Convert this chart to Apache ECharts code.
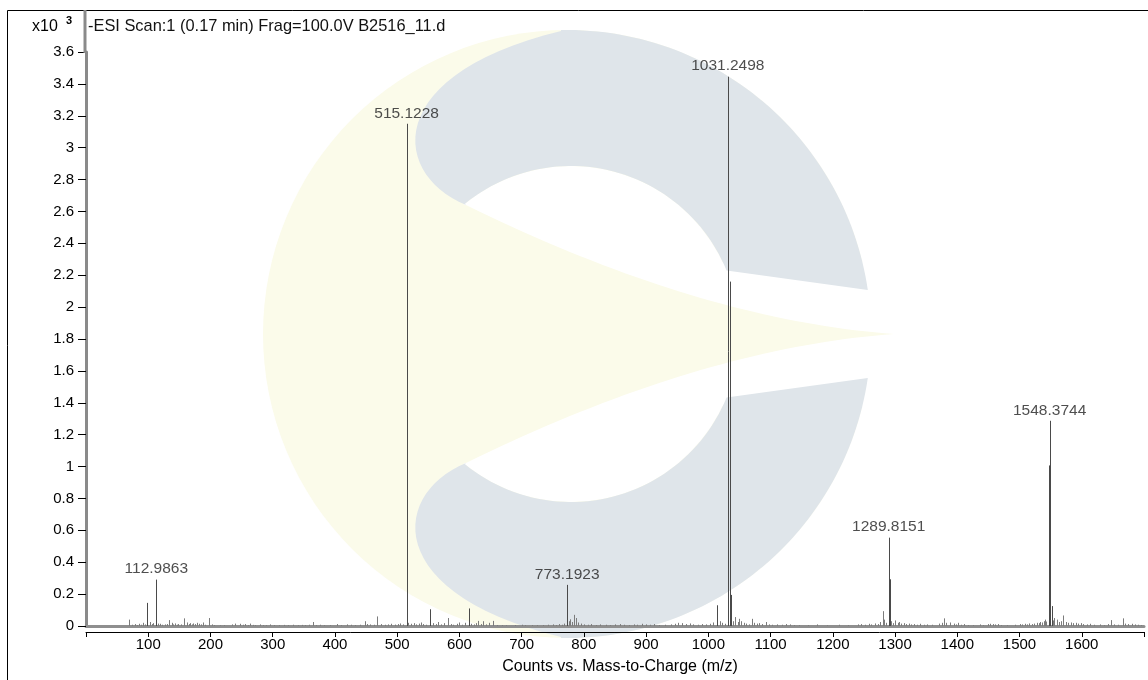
<!DOCTYPE html>
<html>
<head>
<meta charset="utf-8">
<script src="https://cdn.jsdelivr.net/npm/echarts@6/dist/echarts.min.js"></script>
<style>
html,body{margin:0;padding:0;background:#fff;}
#chart{width:1148px;height:680px;}
</style>
</head>
<body>
<div id="chart"></div>
<script>
// ---- DATA ----
const peakMz = [69.6,74,78.7,82,85.7,89,92.1,95,98.5,102.8,105.5,108.2,112.9863,116,118.9,122,126.9,130,133.4,137.6,140,143,146,148.3,152,157.5,161.7,165,167.1,170,172.4,175,177.8,182,185,188.5,192,197.1,201.9,205,
215,222,234,240,247,252,255.5,260,263.5,268,272,279.6,285,290,295.6,302,310,318,325,333,340,347,352,358,365,370,376,383,392,402.8,410,419,426,433,440,447.8,451,457,463,468.2,474,480,486,490,496,501,505,510,515.1228,518,522,527,531,535,538,542,547,553.5,557,562,566,570,576,581,586,590,596,600,604,609,615,619,623,627,630,635,638,643,648,654,660,668,675,690,700,706,716,725,735,742,750,755,760,765,768,773.1923,776,778,781,784,787,791,795,800,806,812,820,826,835,842,850,858,865,872,880,886,893,900,906,912,920,930,940,946,952,958,964,970,976,983,990,996,1002,1008,1014.3,1018,1022,1026,1031.2498,1034.2,1036,1040,1043,1047,1050,1053,1057,1061,1065,1070,1074,1078,1082,1087,1092,1097,1103,1110,1118,1124,1131,1138,1145,1160,1175,1190,1210,1225,1240,1246,1252,1258,1262,1267,1272,1276,1280,1283,1286,1289.8151,1291.3,1294,1297,1300,1304,1307,1310,1314,1318,1322,1326,1330,1335,1340,1346,1352,1360,1370,1375,1378,1382,1388,1394,1398,1401.6,1406,1410,1418,1426,1436,1442,1449,1453,1457,1461,1465,1470,1480,1492,1500,1504,1508,1512,1516,1520,1524,1528,1531,1533,1536,1539,1541,1543,1546.8,1548.3744,1551.5,1554,1555.7,1559.6,1563,1566,1570.3,1574,1578,1582,1586,1590,1594,1598,1602,1608,1614,1620,1629,1636,1642,1647,1652,1658,1666.7,1670,1675,1680,1685,1690,1695];
const peakCounts = [40,8,12,6,14,8,20,10,145,25,12,18,291,15,14,8,10,12,37,20,10,16,8,12,10,48,22,12,18,10,16,12,20,14,10,22,8,50,10,6,
4,5,10,15,14,8,12,6,15,7,5,10,6,5,10,6,5,7,6,8,5,7,6,8,25,6,8,5,6,12,6,10,8,6,8,30,12,10,8,60,12,8,10,14,9,12,16,10,3150,20,14,18,10,15,22,12,8,105,18,12,25,10,18,50,12,8,14,22,8,20,110,14,10,18,32,12,30,10,20,32,6,5,4,6,8,5,6,5,6,8,10,6,12,8,15,258,30,42,25,70,50,22,15,10,8,12,6,10,8,6,10,12,8,6,10,8,14,10,8,12,6,8,10,14,20,18,12,16,10,8,12,10,14,22,130,30,20,14,3445,2160,195,30,56,25,45,30,20,15,10,45,20,15,18,12,25,10,8,10,8,12,10,6,5,5,10,4,8,5,10,12,8,14,10,16,12,25,93,40,20,554,293,30,18,35,20,25,15,18,12,15,10,12,8,14,8,10,8,15,20,48,20,22,15,10,20,8,12,6,5,10,5,12,14,12,10,12,6,5,8,12,10,14,10,16,12,15,20,18,25,22,30,40,28,1007,1287,125,35,50,40,25,30,66,25,20,22,18,20,15,18,12,10,14,8,10,6,12,37,10,8,48,15,12,14,10,8,6];

const labelMz = [112.9863, 515.1228, 773.1923, 1031.2498, 1289.8151, 1548.3744];
const labelCounts = [291, 3150, 258, 3445, 554, 1287];
const labelTexts = ['112.9863', '515.1228', '773.1923', '1031.2498', '1289.8151', '1548.3744'];

const xTickMin = 0, xTickMax = 1700, xTickStep = 100;
const yTickMin = 0, yTickMax = 3600, yTickStep = 200;

const headerText = '-ESI Scan:1 (0.17 min) Frag=100.0V B2516_11.d';
const axisTitle = 'Counts vs. Mass-to-Charge (m/z)';

// ---- WATERMARK GEOMETRY (decoration) ----
const FONT = '"Liberation Sans", Arial, sans-serif';
const YELLOW = '#fbfbea', BLUE = '#dfe5ea';
function arcPts(cx, cy, r, a0, a1, n) {
  const pts = [];
  for (let i = 0; i <= n; i++) {
    const a = (a0 + (a1 - a0) * i / n) * Math.PI / 180;
    pts.push([cx + r * Math.cos(a), cy + r * Math.sin(a)]);
  }
  return pts;
}
function cubicPts(p0, p1, p2, p3, n) {
  const pts = [];
  for (let i = 0; i <= n; i++) {
    const t = i / n, u = 1 - t;
    pts.push([u*u*u*p0[0] + 3*u*u*t*p1[0] + 3*u*t*t*p2[0] + t*t*t*p3[0],
              u*u*u*p0[1] + 3*u*u*t*p1[1] + 3*u*t*t*p2[1] + t*t*t*p3[1]]);
  }
  return pts;
}
function quadPts(p0, c, p1, n) {
  const pts = [];
  for (let i = 0; i <= n; i++) {
    const t = i / n, u = 1 - t;
    pts.push([u*u*p0[0] + 2*u*t*c[0] + t*t*p1[0], u*u*p0[1] + 2*u*t*c[1] + t*t*p1[1]]);
  }
  return pts;
}
const OC = [567, 334], OR = 304, HC = [571, 334], HR = 168, MID = 334;
function deg(p, c) { return Math.atan2(p[1] - c[1], p[0] - c[0]) * 180 / Math.PI; }
const upperBand = [].concat(
  arcPts(OC[0], OC[1], OR, deg([561, 31], OC), deg([868, 290], OC), 60),
  arcPts(HC[0], HC[1], HR, deg([728, 270], HC), deg([466, 205], HC), 50),
  cubicPts([466, 205], [392, 175], [380, 75], [561, 31], 30)
);
const lowerBand = upperBand.map(p => [p[0], 2 * MID - p[1]]);
const spike = [].concat(
  quadPts([466, 205], [700, 320], [894, 334], 40),
  quadPts([894, 334], [700, 348], [466, 463], 40),
  [[400, 463], [400, 205]]
);

const chart = echarts.init(document.getElementById('chart'), null, {renderer: 'canvas'});
const option = {
  animation: false,
  backgroundColor: '#fff',
  textStyle: {fontFamily: FONT},
  grid: {left: 86, right: 4, top: 52, bottom: 50, containLabel: false},
  xAxis: [
    {type: 'value', min: xTickMin, max: xTickMax, interval: xTickStep, position: 'bottom', offset: 1,
     axisLine: {show: true, lineStyle: {color: '#8f8f8f', width: 3}},
     axisTick: {show: false}, axisLabel: {show: false}, splitLine: {show: false}},
    {type: 'value', min: xTickMin, max: xTickMax, interval: xTickStep, position: 'bottom', offset: 6,
     axisLine: {show: true, lineStyle: {color: '#000', width: 1}},
     axisTick: {show: true, length: 5, lineStyle: {color: '#000', width: 1}},
     axisLabel: {fontSize: 15, color: '#000', margin: 5, fontFamily: FONT,
       formatter: v => (v === xTickMin || v === xTickMax) ? '' : String(v)},
     splitLine: {show: false},
     name: axisTitle, nameLocation: 'middle', nameGap: 27,
     nameTextStyle: {fontSize: 16, color: '#000', fontFamily: FONT, padding: [0, 0, 0, 10]}}
  ],
  yAxis: [{
    type: 'value', min: yTickMin, max: yTickMax, interval: yTickStep, position: 'left', offset: 1,
    axisLine: {show: true, lineStyle: {color: '#8a8a8a', width: 3}},
    axisTick: {show: true, length: 8, lineStyle: {color: '#000', width: 1}},
    axisLabel: {fontSize: 15, color: '#000', margin: 11, fontFamily: FONT,
      formatter: v => String(Math.round(v / 100) / 10)},
    splitLine: {show: false}
  }],
  graphic: [
    {type: 'circle', z: -10, silent: true, shape: {cx: OC[0], cy: OC[1], r: OR}, style: {fill: YELLOW}},
    {type: 'circle', z: -9, silent: true, shape: {cx: HC[0], cy: HC[1], r: HR}, style: {fill: '#fff'}},
    {type: 'polygon', z: -9, silent: true, shape: {points: [[700, 262], [885, 262], [885, 406], [700, 406]]}, style: {fill: '#fff'}},
    {type: 'polygon', z: -8, silent: true, shape: {points: spike}, style: {fill: YELLOW}},
    {type: 'polygon', z: -7, silent: true, shape: {points: upperBand}, style: {fill: BLUE}},
    {type: 'polygon', z: -7, silent: true, shape: {points: lowerBand}, style: {fill: BLUE}},
    {type: 'rect', z: 20, silent: true, shape: {x: 7.5, y: 10.5, width: 1200, height: 720}, style: {fill: 'none', stroke: '#000', lineWidth: 1}},
    {type: 'line', z: 20, silent: true, shape: {x1: 85, y1: 10, x2: 85, y2: 53}, style: {stroke: '#8a8a8a', lineWidth: 3}},
    {type: 'text', z: 20, silent: true, x: 32, y: 27, style: {text: 'x10', font: '16px ' + FONT, fill: '#000', verticalAlign: 'middle'}},
    {type: 'text', z: 20, silent: true, x: 66, y: 21, style: {text: '3', font: 'bold 11px ' + FONT, fill: '#000', verticalAlign: 'middle'}},
    {type: 'text', z: 20, silent: true, x: 88, y: 26, style: {text: headerText, font: '16.4px ' + FONT, fill: '#111', verticalAlign: 'middle'}}
  ],
  series: [
    {
      type: 'custom', xAxisIndex: 1, yAxisIndex: 0, silent: true, clip: true,
      data: peakMz.map((m, i) => [m, peakCounts[i]]),
      renderItem: function (params, api) {
        const x = api.value(0), y = api.value(1);
        const p0 = api.coord([x, 0]);
        const p1 = api.coord([x, y]);
        const px = Math.round(p0[0]) + 0.5;
        return {type: 'line', shape: {x1: px, y1: p0[1], x2: px, y2: p1[1]},
          style: {stroke: y > 100 ? '#4a4a4a' : '#7c7c7c', lineWidth: 1}};
      }
    },
    {
      type: 'scatter', xAxisIndex: 1, yAxisIndex: 0, silent: true,
      symbol: 'rect', symbolSize: 1, itemStyle: {color: 'rgba(0,0,0,0)'},
      data: labelMz.map((m, i) => [m, labelCounts[i]]),
      label: {show: true, position: 'top', distance: 2, fontSize: 15.5, color: '#222', fontFamily: FONT,
        formatter: p => labelTexts[p.dataIndex]}
    }
  ]
};
chart.setOption(option);
</script>
</body>
</html>
